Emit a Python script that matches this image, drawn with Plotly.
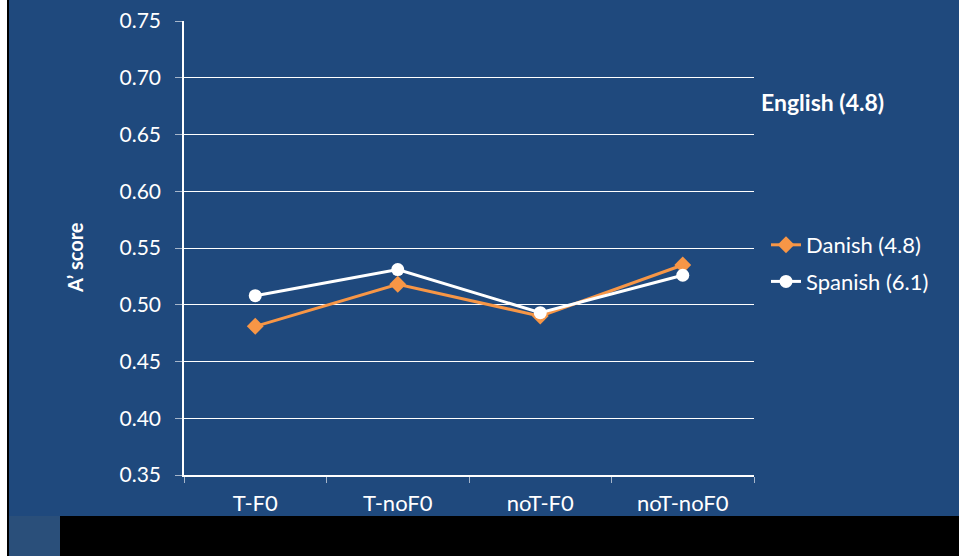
import plotly.graph_objects as go

categories = ["T-F0", "T-noF0", "noT-F0", "noT-noF0"]
danish = [0.481, 0.518, 0.490, 0.535]
spanish = [0.508, 0.531, 0.493, 0.526]
series_names = ["Danish (4.8)", "Spanish (6.1)"]
y_ticks = [0.35, 0.40, 0.45, 0.50, 0.55, 0.60, 0.65, 0.70, 0.75]

BG = "#1F497D"
ORANGE = "#F79646"
FONT = "Lato"

W, H = 959, 556
L, R, T, B = 184, 205, 21, 81
pw, ph = W - L - R, H - T - B

def px2x(px):
    return (px - L) / pw

def px2y(py):
    return (H - B - py) / ph

fig = go.Figure()
fig.add_trace(go.Scatter(
    x=categories, y=danish, name=series_names[0], mode="lines+markers",
    legendgroup="a",
    line=dict(color=ORANGE, width=3),
    marker=dict(symbol="diamond", size=13, color=ORANGE),
))
fig.add_trace(go.Scatter(
    x=categories, y=spanish, name=series_names[1], mode="lines+markers",
    legendgroup="b",
    line=dict(color="white", width=3),
    marker=dict(symbol="circle", size=13, color="white"),
))

fig.update_layout(
    width=W, height=H,
    margin=dict(l=L, r=R, t=T, b=B, autoexpand=False),
    paper_bgcolor=BG, plot_bgcolor=BG,
    font=dict(family=FONT, size=21, color="white"),
    showlegend=True,
    legend=dict(x=px2x(766), xanchor="left", y=px2y(224), yanchor="top",
                bgcolor="rgba(0,0,0,0)", font=dict(size=22, color="white"),
                itemwidth=30, traceorder="grouped", tracegroupgap=5),
    xaxis=dict(
        type="category", range=[-0.5, 3.5], showgrid=False, automargin=False,
        showline=True, linecolor="white", linewidth=1.5,
        ticks="outside", tickson="boundaries", ticklen=6, tickcolor="#A6B6CB",
        ticklabelstandoff=8, tickfont=dict(size=22, color="white"),
    ),
    yaxis=dict(
        range=[0.35, 0.75], tickvals=y_ticks, tickformat=".2f", automargin=False,
        showgrid=True, gridcolor="white", gridwidth=1,
        showline=True, linecolor="white", linewidth=1.5,
        ticks="outside", ticklen=7, tickcolor="#A6B6CB",
        ticklabelstandoff=10,
        tickfont=dict(size=21, color="white"), zeroline=False,
    ),
    annotations=[
        dict(text="<b>English (4.8)</b>", xref="paper", yref="paper",
             x=px2x(759), y=px2y(102), xanchor="left", yanchor="middle",
             showarrow=False, font=dict(size=23, color="white", family=FONT)),
        dict(text="<b>A’ score</b>", xref="paper", yref="paper",
             x=px2x(75), y=px2y(258), xanchor="center", yanchor="middle",
             textangle=-90, showarrow=False,
             font=dict(size=20, color="white", family=FONT)),
    ],
    shapes=[
        dict(type="rect", xref="paper", yref="paper", layer="above",
             x0=px2x(9), x1=px2x(W + 5), y0=px2y(H + 5), y1=px2y(516),
             fillcolor="black", line=dict(width=0)),
        dict(type="rect", xref="paper", yref="paper", layer="above",
             x0=px2x(9), x1=px2x(60), y0=px2y(H + 5), y1=px2y(516),
             fillcolor="#2A4F7A", line=dict(width=0)),
        dict(type="rect", xref="paper", yref="paper", layer="above",
             x0=px2x(-5), x1=px2x(7), y0=px2y(H + 5), y1=px2y(-5),
             fillcolor="white", line=dict(width=0)),
        dict(type="rect", xref="paper", yref="paper", layer="above",
             x0=px2x(7), x1=px2x(9), y0=px2y(H + 5), y1=px2y(-5),
             fillcolor="black", line=dict(width=0)),
    ],
)

fig.write_html("out.html")
